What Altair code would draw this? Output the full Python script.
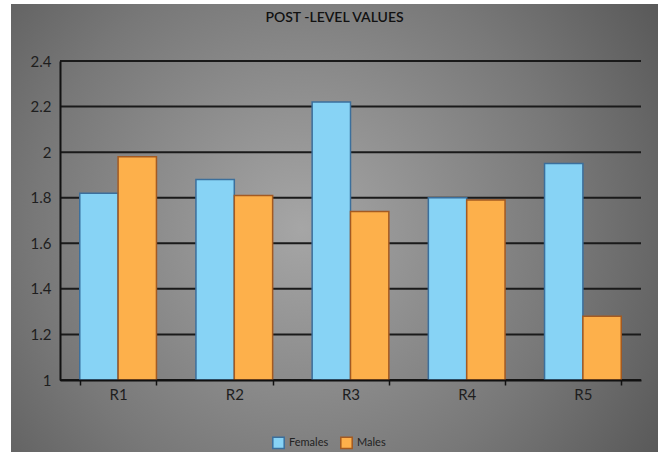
import altair as alt
import pandas as pd

# Post-level values per region, split by sex
regions = ["R1", "R2", "R3", "R4", "R5"]
females = [1.82, 1.88, 2.22, 1.80, 1.95]
males = [1.98, 1.81, 1.74, 1.79, 1.28]
groups = ["Females", "Males"]
y_ticks = [1.0, 1.2, 1.4, 1.6, 1.8, 2.0, 2.2, 2.4]

rows = []
for r, f, m in zip(regions, females, males):
    rows.append({"region": r, "sex": "Females", "value": f, "base": 1.0})
    rows.append({"region": r, "sex": "Males", "value": m, "base": 1.0})
bars_df = pd.DataFrame(rows)
grid_df = pd.DataFrame({"v": y_ticks})

W, H = 581, 319
FONT = "Lato"
y_scale = alt.Scale(domain=[1.0, 2.4], zero=False, nice=False)

# Radial grey backdrop behind the whole figure
backdrop = alt.Chart(pd.DataFrame({"a": [0]})).mark_rect(
    fill=alt.RadialGradient(
        gradient="radial",
        x1=0.45, y1=0.5, r1=0.0,
        x2=0.45, y2=0.5, r2=0.75,
        stops=[
            alt.GradientStop(offset=0.0, color="#a6a6a6"),
            alt.GradientStop(offset=0.55, color="#787878"),
            alt.GradientStop(offset=1.0, color="#4c4c4c"),
        ],
    ),
    stroke=None,
).encode(
    x=alt.value(-49), x2=alt.value(598),
    y=alt.value(-57), y2=alt.value(392),
)

grid = alt.Chart(grid_df).mark_rule(color="#1a1a1a", strokeWidth=2).encode(
    y=alt.Y("v:Q", scale=y_scale, title=None,
            axis=alt.Axis(values=y_ticks, format="~g", grid=False, ticks=False,
                          domain=True, domainColor="#111", domainWidth=2,
                          labelFont=FONT, labelFontSize=15, labelColor="#1e1e1e",
                          labelPadding=9, zindex=1)),
)

bars = alt.Chart(bars_df).mark_bar(strokeWidth=1.5).encode(
    x=alt.X("region:N", sort=regions, title=None,
            scale=alt.Scale(paddingInner=0.34, paddingOuter=0.17),
            axis=alt.Axis(labelAngle=0, tickBand="extent", ticks=True, tickSize=5,
                          tickColor="#111", tickWidth=1.5, domainColor="#111",
                          domainWidth=2, labelFont=FONT, labelFontSize=15,
                          labelColor="#1e1e1e", labelPadding=2, zindex=1)),
    xOffset=alt.XOffset("sex:N", sort=groups,
                        scale=alt.Scale(paddingInner=0, paddingOuter=0)),
    y=alt.Y("value:Q", scale=y_scale, title=None),
    y2="base:Q",
    fill=alt.Fill("sex:N", sort=groups, title=None,
                  scale=alt.Scale(domain=groups, range=["#87d3f5", "#fdb04b"]),
                  legend=alt.Legend(orient="none", legendX=212, legendY=375,
                                    direction="horizontal", symbolType="square",
                                    symbolSize=130, symbolStrokeWidth=1.5,
                                    labelFont=FONT, labelFontSize=11,
                                    labelColor="#222", columnPadding=8,
                                    symbolOpacity=1, zindex=1)),
    stroke=alt.Stroke("sex:N", sort=groups, title=None,
                      scale=alt.Scale(domain=groups, range=["#3b6f9c", "#a35a22"])),
)

chart = alt.layer(backdrop, grid, bars).properties(
    width=W, height=H,
    autosize=alt.AutoSizeParams(type="none"),
    padding={"left": 60, "top": 61, "right": 18, "bottom": 72},
    background="white",
    title=alt.TitleParams("POST -LEVEL VALUES", font=FONT, fontSize=14,
                          fontWeight=600, color="#111", anchor="middle",
                          dx=-16, offset=-21),
).configure_view(stroke=None)

chart.save("out.html", embed_options={"renderer": "svg", "actions": False})
